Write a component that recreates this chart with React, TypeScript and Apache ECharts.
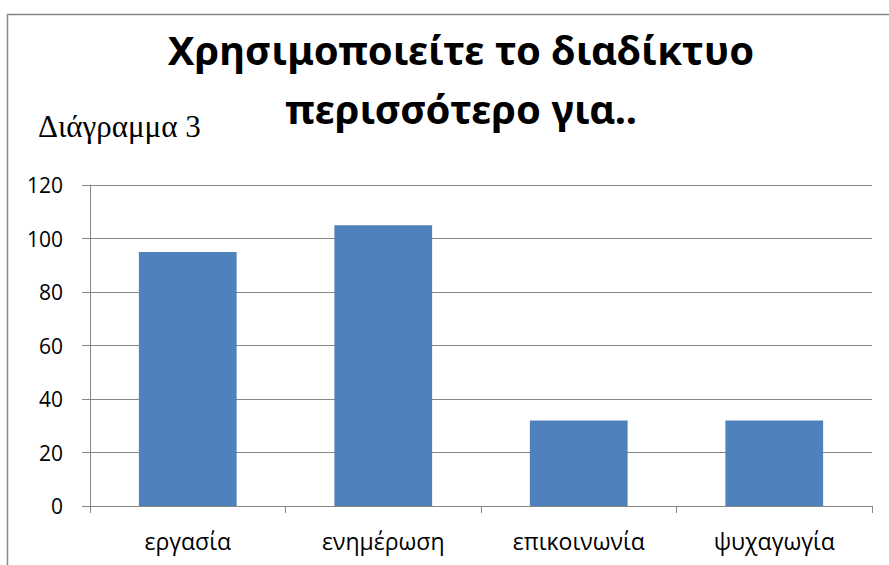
import React, { useEffect, useRef } from "react";
import * as echarts from "echarts";

const categories = ["εργασία", "ενημέρωση", "επικοινωνία", "ψυχαγωγία"];
const values = [95, 105, 32, 32];
const titleText = "Χρησιμοποιείτε το διαδίκτυο\nπερισσότερο για..";
const subText = "Διάγραμμα 3";

export default function App() {
  const ref = useRef<HTMLDivElement>(null);
  useEffect(() => {
    if (!ref.current) return;
    const chart = echarts.init(ref.current, null, { renderer: "svg" });
    chart.setOption({
      animation: false,
      backgroundColor: "#ffffff",
      title: {
        text: titleText,
        left: 456,
        top: 15,
        textAlign: "center",
        textStyle: {
          fontFamily: "Noto Sans",
          fontWeight: "bold",
          fontSize: 40,
          lineHeight: 59,
          color: "#000000",
        },
      },
      graphic: [
        {
          type: "rect",
          shape: { x: 7.5, y: 14.5, width: 900, height: 600 },
          style: { fill: "none", stroke: "#878787", lineWidth: 1.5 },
          silent: true,
        },
        {
          type: "text",
          x: 38,
          y: 126,
          style: {
            text: subText,
            fontFamily: "'Liberation Serif', 'DejaVu Serif', serif",
            fontSize: 31,
            fill: "#000000",
            verticalAlign: "middle",
          },
        },
      ],
      grid: { left: 90, right: 17, top: 185, bottom: 59 },
      xAxis: {
        type: "category",
        data: categories,
        axisLine: { lineStyle: { color: "#868686", width: 1 } },
        axisTick: { show: true, length: 7, alignWithLabel: false, lineStyle: { color: "#868686" } },
        axisLabel: { fontFamily: "Open Sans", fontSize: 23, color: "#000000", margin: 23 },
      },
      yAxis: {
        type: "value",
        min: 0,
        max: 120,
        interval: 20,
        axisLine: { show: true, lineStyle: { color: "#868686", width: 1 } },
        axisTick: { show: true, length: 8, inside: false, lineStyle: { color: "#868686" } },
        axisLabel: { fontFamily: "Open Sans", fontSize: 21, color: "#000000", margin: 27 },
        splitLine: { show: true, lineStyle: { color: "#868686", width: 1 } },
      },
      series: [
        {
          type: "bar",
          data: values,
          barWidth: "50%",
          itemStyle: { color: "#4F81BD" },
        },
      ],
    });
    return () => chart.dispose();
  }, []);
  return (
    <div
      ref={ref}
      style={{ position: "fixed", left: 0, top: 0, width: 889, height: 565 }}
    />
  );
}
